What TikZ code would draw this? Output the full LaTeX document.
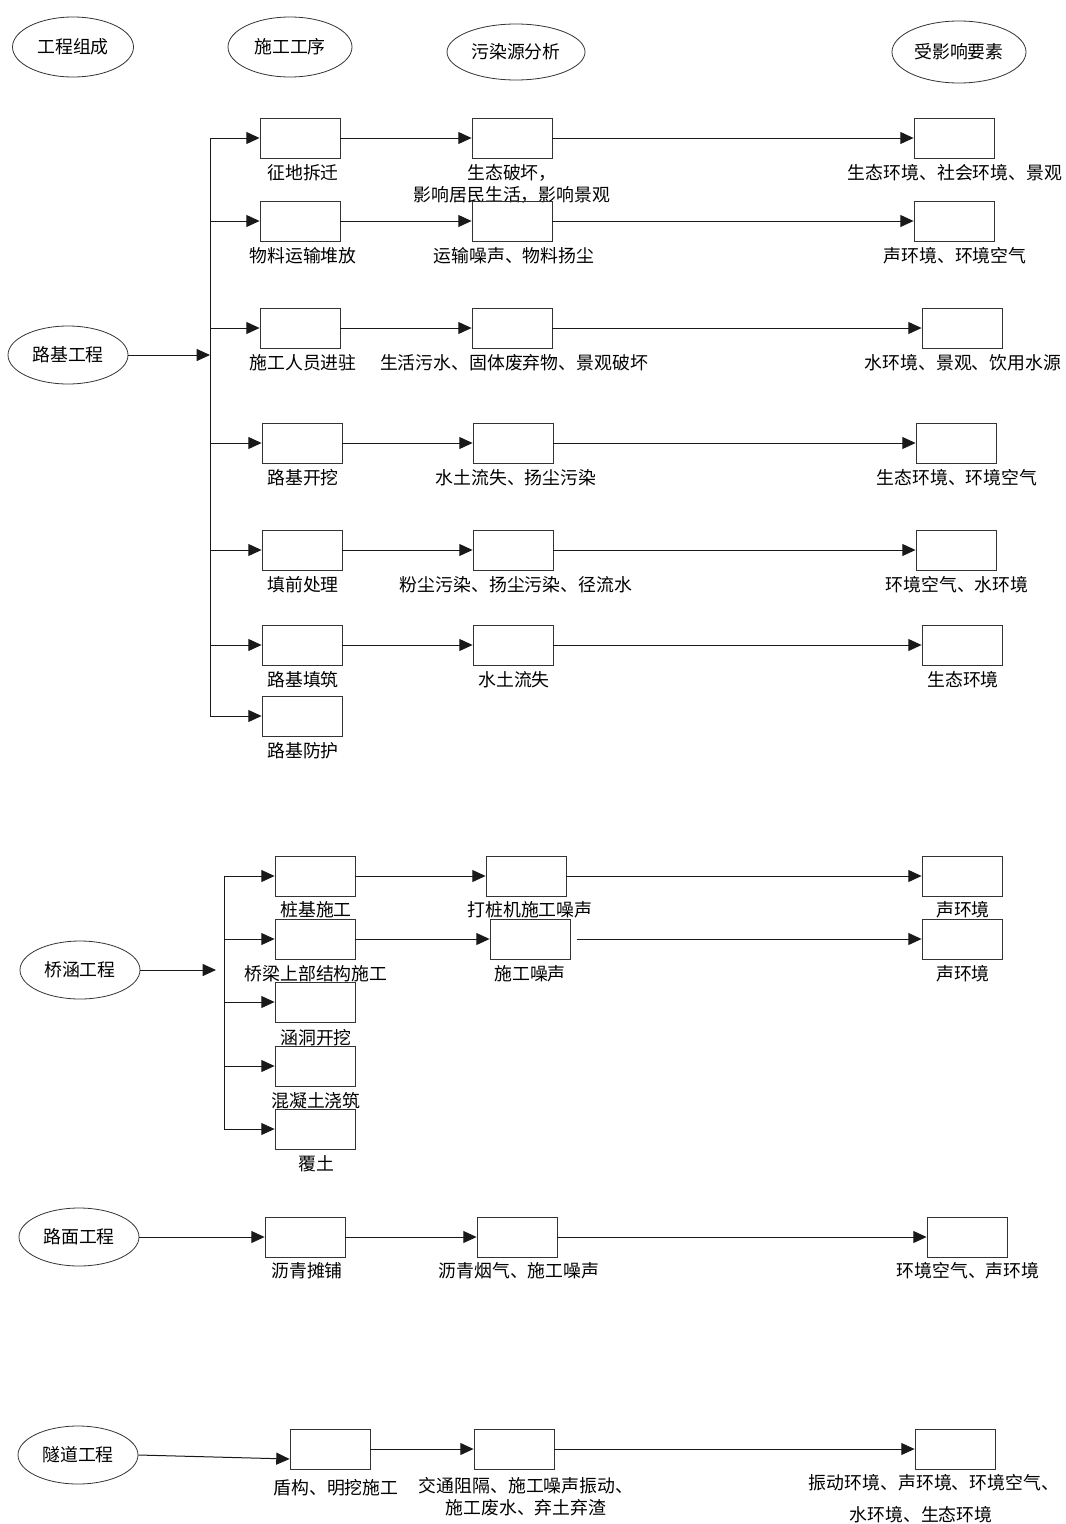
\documentclass[tikz,border=0pt]{standalone}
\usepackage{fontspec}
\setmainfont{Noto Sans CJK SC}
\usetikzlibrary{arrows.meta,shapes.geometric}
\begin{document}
\begin{tikzpicture}[x=0.75pt,y=-0.75pt,
 every node/.style={font=\fontsize{13.4}{16.5}\selectfont},
 hdr/.style={draw=black!80, ellipse, inner sep=0, line width=0.6pt, minimum width=90pt, minimum height=43.5pt},
 box/.style={draw=black!80, minimum width=60pt, minimum height=30pt, inner sep=0, line width=0.6pt},
 lbl/.style={inner sep=0, align=center},
 conn/.style={draw=black!90, line width=0.75pt, -{Triangle[length=10pt,width=9pt]}},
 plain/.style={draw=black!90, line width=0.75pt}]
\useasboundingbox (0,0) rectangle (1065,1524);

% header ellipses
\node[hdr, minimum width=90.75pt, minimum height=45pt] (h1) at (73,47) {工程组成};
\node[hdr, minimum width=93pt, minimum height=45pt] (h2) at (290,47) {施工工序};
\node[hdr, minimum width=103.5pt, minimum height=42pt] (h3) at (516,52) {污染源分析};
\node[hdr, minimum width=100.5pt, minimum height=46.5pt] (h4) at (959,52) {受影响要素};

% ---------------- 路基工程 ----------------
\node[hdr] (r0) at (68,355) {路基工程};
\coordinate (rbus) at (210,355);

\node[box] (a1) at (300,138) {};
\node[box] (b1) at (512,138) {};
\node[box] (c1) at (954,138) {};
\node[lbl] (la1) at (303,173) {征地拆迁};
\node[lbl] (lb1) at (512,184) {生态破坏，\\影响居民生活，影响景观};
\node[lbl] (lc1) at (955,173) {生态环境、社会环境、景观};

\node[box] (a2) at (300,221) {};
\node[box] (b2) at (512,221) {};
\node[box] (c2) at (954,221) {};
\node[lbl] (la2) at (303,256) {物料运输堆放};
\node[lbl] (lb2) at (514,256) {运输噪声、物料扬尘};
\node[lbl] (lc2) at (955,256) {声环境、环境空气};

\node[box] (a3) at (300,328) {};
\node[box] (b3) at (512,328) {};
\node[box] (c3) at (962,328) {};
\node[lbl] (la3) at (303,363) {施工人员进驻};
\node[lbl] (lb3) at (514,363) {生活污水、固体废弃物、景观破坏};
\node[lbl] (lc3) at (963,363) {水环境、景观、饮用水源};

\node[box] (a4) at (302,443) {};
\node[box] (b4) at (513,443) {};
\node[box] (c4) at (956,443) {};
\node[lbl] (la4) at (303,478) {路基开挖};
\node[lbl] (lb4) at (516,478) {水土流失、扬尘污染};
\node[lbl] (lc4) at (957,478) {生态环境、环境空气};

\node[box] (a5) at (302,550) {};
\node[box] (b5) at (513,550) {};
\node[box] (c5) at (956,550) {};
\node[lbl] (la5) at (303,585) {填前处理};
\node[lbl] (lb5) at (516,585) {粉尘污染、扬尘污染、径流水};
\node[lbl] (lc5) at (957,585) {环境空气、水环境};

\node[box] (a6) at (302,645) {};
\node[box] (b6) at (513,645) {};
\node[box] (c6) at (962,645) {};
\node[lbl] (la6) at (303,680) {路基填筑};
\node[lbl] (lb6) at (514,680) {水土流失};
\node[lbl] (lc6) at (963,680) {生态环境};

\node[box] (a7) at (302,716) {};
\node[lbl] (la7) at (303,751) {路基防护};

\draw[conn] (r0.east) -- (rbus);
\draw[plain] (rbus |- a1.west) -- (rbus |- a7.west);
\foreach \i in {1,...,7} {\draw[conn] (rbus |- a\i.west) -- (a\i.west);}
\foreach \i in {1,...,6} {\draw[conn] (a\i.east) -- (b\i.west); \draw[conn] (b\i.east) -- (c\i.west);}

% ---------------- 桥涵工程 ----------------
\node[hdr] (q0) at (80,970) {桥涵工程};
\coordinate (qin) at (216,970);
\coordinate (qbus) at (224,970);

\node[box] (qa1) at (315,876) {};
\node[box] (qb1) at (526,876) {};
\node[box] (qc1) at (962,876) {};
\node[lbl] (lqa1) at (316,910) {桩基施工};
\node[lbl] (lqb1) at (530,910) {打桩机施工噪声};
\node[lbl] (lqc1) at (963,910) {声环境};

\node[box] (qa2) at (315,939) {};
\node[box] (qb2) at (530,939) {};
\node[box] (qc2) at (962,939) {};
\node[lbl] (lqa2) at (316,974) {桥梁上部结构施工};
\node[lbl] (lqb2) at (530,974) {施工噪声};
\node[lbl] (lqc2) at (963,974) {声环境};

\node[box] (qa3) at (315,1002) {};
\node[lbl] (lqa3) at (316,1038) {涵洞开挖};
\node[box] (qa4) at (315,1066) {};
\node[lbl] (lqa4) at (316,1101) {混凝土浇筑};
\node[box] (qa5) at (315,1129) {};
\node[lbl] (lqa5) at (316,1164) {覆土};

\draw[conn] (q0.east) -- (qin);
\draw[plain] (qbus |- qa1.west) -- (qbus |- qa5.west);
\foreach \i in {1,...,5} {\draw[conn] (qbus |- qa\i.west) -- (qa\i.west);}
\draw[conn] (qa1.east) -- (qb1.west);
\draw[conn] (qb1.east) -- (qc1.west);
\draw[conn] (qa2.east) -- (qb2.west);
\draw[conn] ([xshift=5pt]qb2.east) -- (qc2.west);

% ---------------- 路面工程 ----------------
\node[hdr] (m0) at (79,1237) {路面工程};
\node[box] (ma) at (305,1237) {};
\node[box] (mb) at (517,1237) {};
\node[box] (mc) at (967,1237) {};
\node[lbl] (lma) at (307,1271) {沥青摊铺};
\node[lbl] (lmb) at (519,1271) {沥青烟气、施工噪声};
\node[lbl] (lmc) at (968,1271) {环境空气、声环境};
\draw[conn] (m0.east) -- (ma.west);
\draw[conn] (ma.east) -- (mb.west);
\draw[conn] (mb.east) -- (mc.west);

% ---------------- 隧道工程 ----------------
\node[hdr] (t0) at (78,1455) {隧道工程};
\node[box] (ta) at (330,1449) {};
\node[box] (tb) at (514,1449) {};
\node[box] (tc) at (955,1449) {};
\node[lbl] (lta) at (336,1488) {盾构、明挖施工};
\node[lbl] (ltb) at (526,1497) {交通阻隔、施工噪声振动、\\施工废水、弃土弃渣};
\node[lbl] (ltc1) at (934,1483) {振动环境、声环境、环境空气、};
\node[lbl] (ltc2) at (921,1515) {水环境、生态环境};
\draw[conn] (t0.east) -- ([yshift=-7.5pt]ta.west);
\draw[conn] (ta.east) -- (tb.west);
\draw[conn] (tb.east) -- (tc.west);
\end{tikzpicture}
\end{document}
